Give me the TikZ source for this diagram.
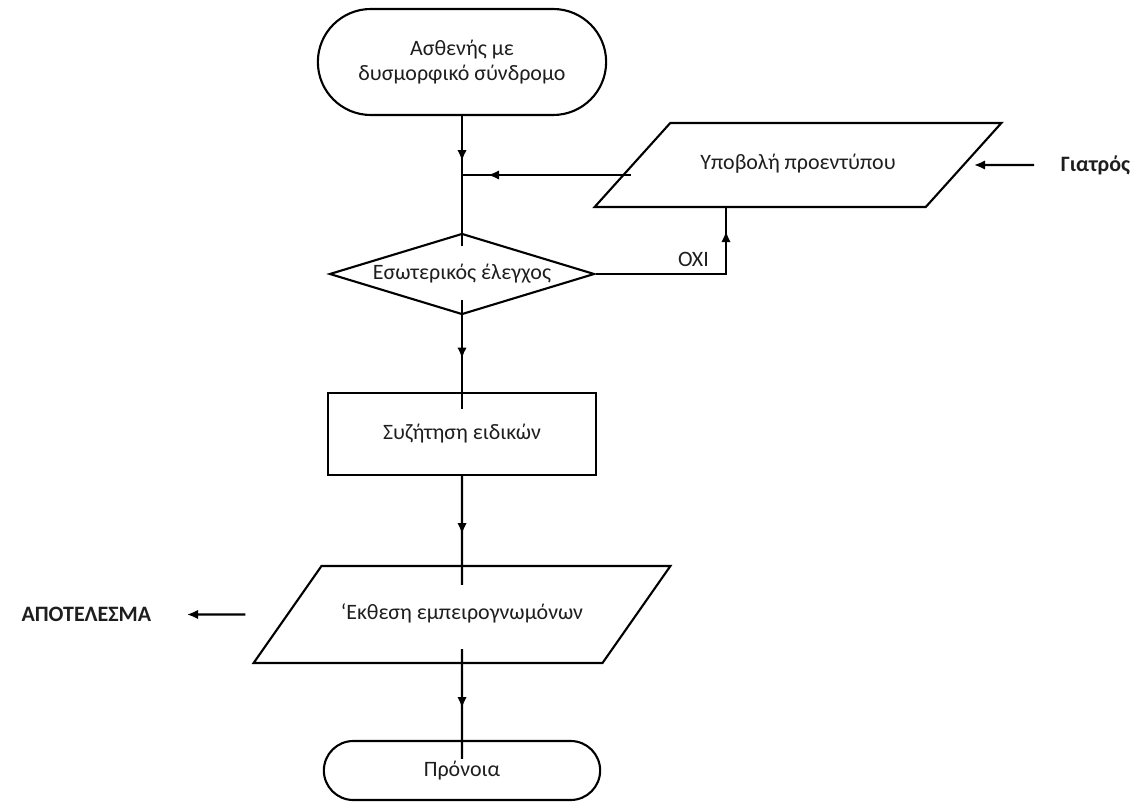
\documentclass[tikz,border=0pt]{standalone}
\usepackage{fontspec}
\setmainfont{Carlito}
\usetikzlibrary{arrows.meta, positioning, shapes.geometric, shapes.misc, decorations.markings}
\definecolor{ctext}{HTML}{1E1E1E}
\tikzset{
  every picture/.style={line width=1.2pt},
  term/.style={draw, rounded rectangle, align=center, text=ctext},
  io/.style={draw, trapezium, align=flush center, inner xsep=0pt, text height=0.3cm, text depth=0.1cm, text=ctext},
  proc/.style={draw, rectangle, align=center, text=ctext},
  decide/.style={draw, diamond, inner sep=0pt},
  flow/.style={postaction={decorate}, decoration={markings, mark=at position #1 with {\arrow{Latex[length=2.2mm, width=1.9mm]}}}},
  arrow/.style={-{Latex[length=2.2mm, width=1.9mm]}},
  side/.style={font=\fontsize{12.5}{14}\selectfont\bfseries, text=ctext},
}

\begin{document}
\begin{tikzpicture}[every node/.append style={font=\fontsize{12.5}{14}\selectfont}]
  \useasboundingbox (0,0) rectangle (22.86,16.04);

  % main column
  \node[term, minimum width=6cm, minimum height=2.12cm] (pat) at (9.24,14.80) {Ασθενής με\\δυσμορφικό σύνδρομο};
  \coordinate (j) at (9.24,12.54);
  \node[decide, minimum width=5.3cm, minimum height=1.62cm, label={[text=ctext]center:Εσωτερικός έλεγχος}] (chk) at (9.24,10.56) {};
  \node[proc, minimum width=5.36cm, minimum height=1.64cm] (disc) at (9.24,7.36) {Συζήτηση ειδικών};
  \node[io, trapezium left angle=55, trapezium right angle=125, text width=5.62cm, inner ysep=0.77cm] (rep) at (9.24,3.75) {‘Εκθεση εμπειρογνωμόνων};
  \node[term, minimum width=5.76cm, minimum height=1.18cm] (care) at (9.24,0.63) {Πρόνοια};

  % form and doctor
  \node[io, trapezium left angle=48, trapezium right angle=132, text width=5.11cm, inner ysep=0.64cm] (ypo) at (15.96,12.74) {Υποβολή προεντύπου};
  \node[side, anchor=west] (doc) at (21.08,12.74) {Γιατρός};
  \node[side, anchor=east] (res) at (3.16,3.75) {ΑΠΟΤΕΛΕΣΜΑ};

  % connectors
  \draw[flow=0.9cm] (pat.south) -- ([yshift=-0.28cm]chk.north);
  \draw[flow=-0.52cm] (j -| ypo.west) -- (j);
  \draw[flow=-0.46cm] (chk.east) -| node[pos=0.375, above, text=ctext] (no) {ΟΧΙ} ([xshift=-1.44cm]ypo.south);
  \draw[flow=1.18cm] ([yshift=0.32cm]chk.south) -- ([yshift=-0.34cm]disc.north);
  \draw[flow=1.16cm] (disc.south) -- ([yshift=-0.4cm]rep.north);
  \draw[flow=1.18cm] ([yshift=0.3cm]rep.south) -- ([yshift=-0.38cm]care.north);
  \draw[arrow, shorten <=0.4cm, shorten >=0.18cm] (doc.west) -- (ypo.east);
  \draw[arrow, shorten >=0.58cm] ([xshift=-0.82cm]rep.west) -- (res.east);
\end{tikzpicture}
\end{document}
